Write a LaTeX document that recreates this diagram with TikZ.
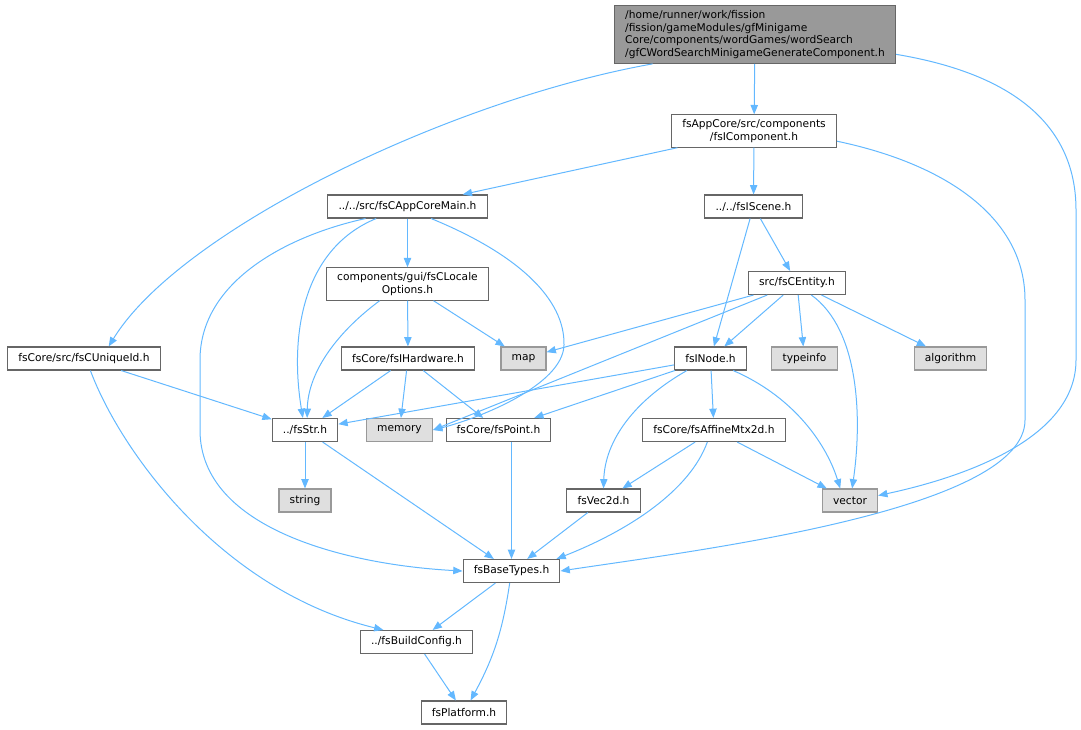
\documentclass[tikz,border=0pt]{standalone}
\usepackage{fontspec}
\setmainfont{DejaVu Sans}
\usetikzlibrary{arrows.meta}
\definecolor{edgeblue}{HTML}{63B8FF}
\definecolor{boxline}{HTML}{666666}
\definecolor{sysfill}{HTML}{DFDFDF}
\definecolor{sysline}{HTML}{999999}
\definecolor{topfill}{HTML}{999999}

\begin{document}
\begin{tikzpicture}[x=0.75pt,y=-0.75pt]
    \tikzstyle{hnode} = [draw=boxline, fill=white, line width=0.8pt, rectangle, inner xsep=8pt, inner ysep=3.5pt, minimum height=17.25pt, align=center, font=\fontsize{8}{9.5}\selectfont]
    \tikzstyle{snode} = [hnode, draw=sysline, fill=sysfill]
    \tikzstyle{tnode} = [hnode, fill=topfill, align=left]
    \tikzstyle{dep} = [draw=edgeblue, line width=0.75pt, -{Triangle[length=7pt,width=5.5pt]}]

    \useasboundingbox (0,0) rectangle (1081,729);

    \node[tnode] (gen) at (755,34.5) {/home/runner/work/fission\\/fission/gameModules/gfMinigame\\Core/components/wordGames/wordSearch\\/gfCWordSearchMinigameGenerateComponent.h};
    \node[hnode] (icomp) at (754,131) {fsAppCore/src/components\\/fsIComponent.h};

    \node[hnode] (appmain) at (407.5,206.5) {../../src/fsCAppCoreMain.h};
    \node[hnode] (iscene) at (753.5,206.5) {../../fsIScene.h};

    \node[hnode] (locale) at (407.5,284) {components/gui/fsCLocale\\Options.h};
    \node[hnode] (entity) at (797,283) {src/fsCEntity.h};

    \node[hnode] (uniqueid) at (84,358.5) {fsCore/src/fsCUniqueId.h};
    \node[hnode] (ihw) at (408,358.5) {fsCore/fsIHardware.h};
    \node[snode] (map) at (523.5,358.5) {map};
    \node[hnode] (inode) at (710.5,358.5) {fsINode.h};
    \node[snode] (typeinfo) at (804.5,358.5) {typeinfo};
    \node[snode] (algorithm) at (950.5,358.5) {algorithm};

    \node[hnode] (str) at (305,430) {../fsStr.h};
    \node[snode] (memory) at (399.5,430) {memory};
    \node[hnode] (point) at (498.5,430) {fsCore/fsPoint.h};
    \node[hnode] (affine) at (714,430) {fsCore/fsAffineMtx2d.h};

    \node[snode] (string) at (305,500.5) {string};
    \node[hnode] (vec2d) at (603.5,500.5) {fsVec2d.h};
    \node[snode] (vector) at (850,500.5) {vector};

    \node[hnode] (basetypes) at (511.5,571) {fsBaseTypes.h};
    \node[hnode] (buildcfg) at (416.5,642) {../fsBuildConfig.h};
    \node[hnode] (platform) at (464,712.5) {fsPlatform.h};

    % top file
    \draw[dep] (gen.196) .. controls (450,100) and (180,230) .. (uniqueid.26);
    \draw[dep] (gen) -- (icomp);
    \draw[dep] (gen.-8.5) .. controls (1020,75) and (1076,130) .. (1076,210) -- (1076,360) .. controls (1076,440) and (960,478) .. (vector.10);

    \draw[dep] (icomp) -- (appmain);
    \draw[dep] (icomp) -- (iscene);
    \draw[dep] (icomp.-7) .. controls (950,165) and (1025,220) .. (1025,300) -- (1025,420) .. controls (1025,510) and (700,550) .. (basetypes.east);

    \draw[dep] (appmain) -- (locale);
    \draw[dep] (appmain.201) .. controls (300,250) and (290,340) .. (str.100);
    \draw[dep] (appmain.196) .. controls (290,235) and (200,280) .. (200,360) -- (200,430) .. controls (200,530) and (350,565) .. (basetypes.west);
    \draw[dep] (appmain.-27) .. controls (520,255) and (565,300) .. (564,345) .. controls (563,385) and (480,418) .. (memory.east);

    \draw[dep] (iscene) -- (entity);
    \draw[dep] (iscene) -- (inode);

    \draw[dep] (locale) -- (ihw);
    \draw[dep] (locale) -- (map);
    \draw[dep] (locale.211) .. controls (340,330) and (308,370) .. (str.80);

    \draw[dep] (entity) -- (map);
    \draw[dep] (entity) -- (memory.east);
    \draw[dep] (entity) -- (inode);
    \draw[dep] (entity) -- (typeinfo);
    \draw[dep] (entity) -- (algorithm);
    \draw[dep] (entity.-40) .. controls (860,330) and (862,420) .. (vector.80);

    \draw[dep] (uniqueid) -- (str);
    \draw[dep] (uniqueid.-62) .. controls (120,450) and (220,590) .. (buildcfg.160);

    \draw[dep] (ihw) -- (str);
    \draw[dep] (ihw) -- (memory);
    \draw[dep] (ihw) -- (point);

    \draw[dep] (inode) -- (str);
    \draw[dep] (inode) -- (point);
    \draw[dep] (inode) -- (affine);
    \draw[dep] (inode.207) .. controls (635,400) and (605,440) .. (vec2d.north);
    \draw[dep] (inode.-28) .. controls (790,395) and (825,440) .. (vector.129);

    \draw[dep] (affine) -- (vec2d);
    \draw[dep] (affine) -- (vector);
    \draw[dep] (affine.241) .. controls (690,490) and (630,530) .. (basetypes.15);

    \draw[dep] (str) -- (string);
    \draw[dep] (str) -- (basetypes);
    \draw[dep] (point.south -| basetypes.north) -- (basetypes.north);
    \draw[dep] (vec2d) -- (basetypes);

    \draw[dep] (basetypes) -- (buildcfg);
    \draw[dep] (basetypes) to[bend left=10] (platform);
    \draw[dep] (buildcfg) -- (platform);
\end{tikzpicture}
\end{document}
